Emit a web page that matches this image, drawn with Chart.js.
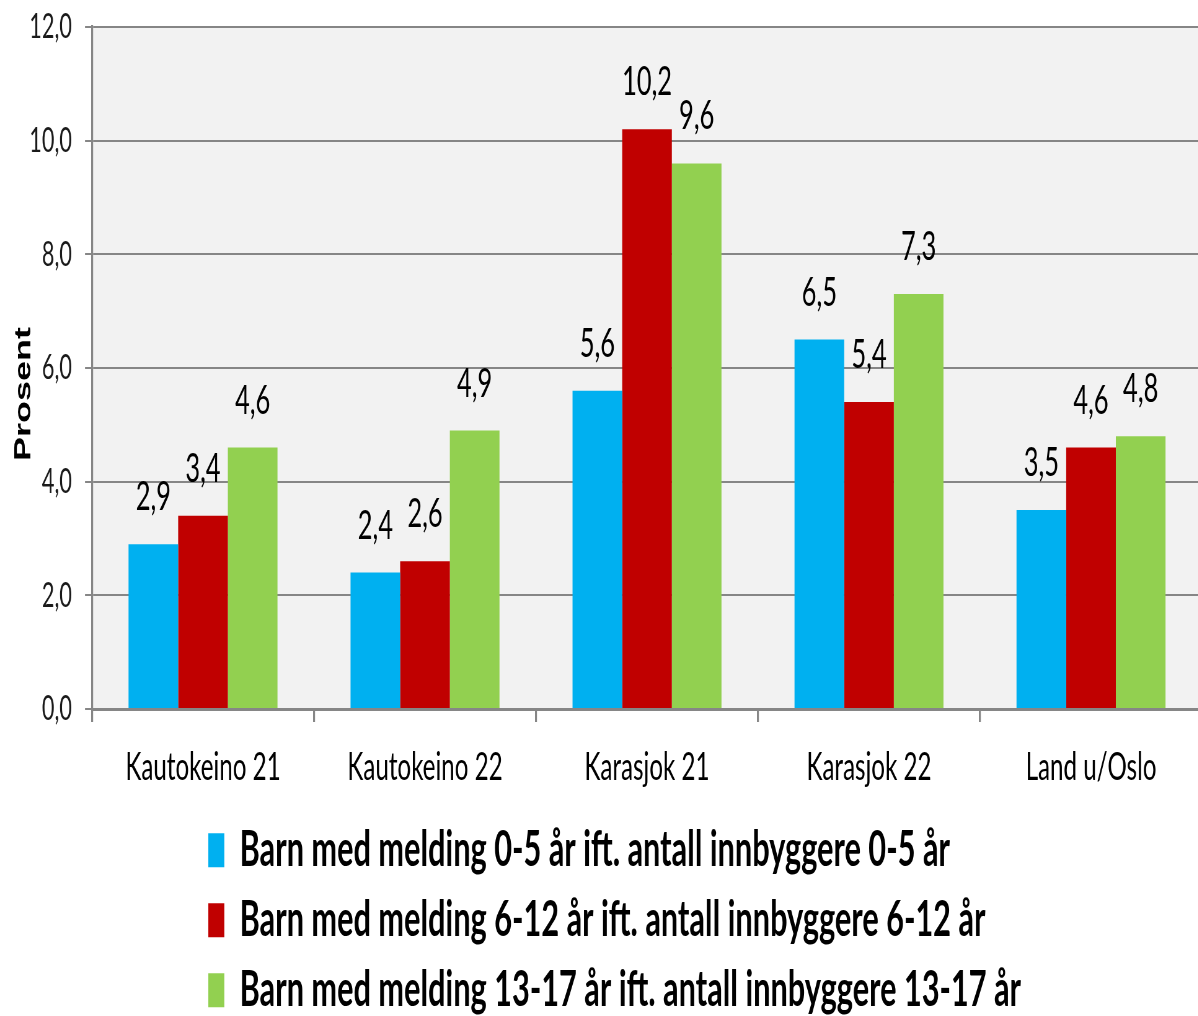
<!DOCTYPE html>
<html>
<head>
<meta charset="utf-8">
<script src="https://cdn.jsdelivr.net/npm/chart.js@4.4.1/dist/chart.umd.min.js"></script>
<style>
  html, body { margin: 0; padding: 0; overflow: hidden; background: #ffffff; }
  #myChart { display: block; }
</style>
</head>
<body>
<canvas id="myChart" width="1939" height="1016" style="width:1202px;height:1016px"></canvas>
<script>
// Data
const categories = ["Kautokeino 21", "Kautokeino 22", "Karasjok 21", "Karasjok 22", "Land u/Oslo"];
const seriesNames = [
  "Barn med melding 0-5 år ift. antall innbyggere 0-5 år",
  "Barn med melding 6-12 år ift. antall innbyggere 6-12 år",
  "Barn med melding 13-17 år ift. antall innbyggere 13-17 år",
];
const age0to5 = [2.9, 2.4, 5.6, 6.5, 3.5];
const age6to12 = [3.4, 2.6, 10.2, 5.4, 4.6];
const age13to17 = [4.6, 4.9, 9.6, 7.3, 4.8];
const yTickLabels = ["0,0", "2,0", "4,0", "6,0", "8,0", "10,0", "12,0"];
const yTitle = "Prosent";

// The picture is squeezed sideways, so the canvas is drawn wide and shown narrow
var SX = 1202 / 1939;
function px(screenX) {
  return screenX / SX;
}

function fmt(v) {
  return v.toFixed(1).replace(".", ",");
}

// Grey plot background
const plotBackground = {
  id: "plotBackground",
  beforeDraw(chart) {
    const a = chart.chartArea;
    const ctx = chart.ctx;
    ctx.save();
    ctx.fillStyle = "#f2f2f2";
    ctx.fillRect(a.left, a.top, a.right - a.left, a.bottom - a.top);
    ctx.restore();
  },
};

// Value labels above each bar
const valueLabels = {
  id: "valueLabels",
  afterDatasetsDraw(chart) {
    const ctx = chart.ctx;
    ctx.save();
    ctx.font = "normal 41px Lato";
    ctx.fillStyle = "#000000";
    ctx.textAlign = "center";
    ctx.textBaseline = "alphabetic";
    chart.data.datasets.forEach((ds, i) => {
      chart.getDatasetMeta(i).data.forEach((bar, j) => {
        ctx.fillText(fmt(ds.data[j]), bar.x, bar.y - 34);
      });
    });
    ctx.restore();
  },
};

// Axis title sits a bit below the axis middle, so it is drawn here
const axisTitle = {
  id: "axisTitle",
  afterDraw(chart) {
    const ctx = chart.ctx;
    ctx.save();
    ctx.translate(px(24), 394);
    ctx.rotate(-Math.PI / 2);
    ctx.font = "bold 36px 'Liberation Sans'";
    ctx.fillStyle = "#000000";
    ctx.textAlign = "center";
    ctx.textBaseline = "middle";
    ctx.fillText(yTitle, 0, 0);
    ctx.restore();
  },
};

// Put the legend as a left-aligned column under the x labels
const legendPlace = {
  id: "legendPlace",
  afterLayout(chart) {
    const lg = chart.legend;
    lg.left = px(208) - 20;
    lg.top = 805;
    lg.right = chart.width;
    lg.bottom = 1120;
    lg.width = lg.right - lg.left;
    lg.height = lg.bottom - lg.top;
  },
};

var ctx = document.getElementById("myChart").getContext("2d");
var myChart = new Chart(ctx, {
  type: "bar",
  data: {
    labels: categories,
    datasets: [
      { label: seriesNames[0], data: age0to5, backgroundColor: "#00b0f0", borderWidth: 0 },
      { label: seriesNames[1], data: age6to12, backgroundColor: "#c00000", borderWidth: 0 },
      { label: seriesNames[2], data: age13to17, backgroundColor: "#92d050", borderWidth: 0 },
    ],
  },
  options: {
    responsive: false,
    devicePixelRatio: 1,
    animation: false,
    categoryPercentage: 0.671,
    barPercentage: 1,
    layout: { padding: { top: 27, left: 0, right: 0, bottom: 0 } },
    scales: {
      x: {
        offset: true,
        grid: {
          offset: true,
          drawOnChartArea: false,
          drawTicks: true,
          tickLength: 13,
          color: "#868686",
          lineWidth: 3.2,
        },
        border: { display: true, color: "#868686", width: 3 },
        ticks: {
          color: "#000000",
          padding: 22,
          font: { family: "Lato", size: 39 },
        },
        afterFit: function (scale) {
          scale.height = 1016 - 709;
          scale.paddingLeft = 0;
          scale.paddingRight = 0;
        },
      },
      y: {
        min: 0,
        max: 12,
        grid: {
          color: "#868686",
          lineWidth: 2,
          tickLength: px(7),
        },
        border: { display: true, color: "#868686", width: 3.2 },
        ticks: {
          stepSize: 2,
          color: "#1a1a1a",
          padding: 21,
          font: { family: "Lato", size: 35 },
          callback: function (value, index) {
            return yTickLabels[index];
          },
        },
        afterFit: function (scale) {
          scale.width = px(92);
          scale.paddingTop = 0;
          scale.paddingBottom = 0;
        },
      },
    },
    plugins: {
      legend: {
        display: true,
        position: "chartArea",
        align: "start",
        labels: {
          boxWidth: px(16),
          boxHeight: 34,
          padding: 20.5,
          color: "#000000",
          font: { family: "Lato", size: 49.5, weight: "bold" },
        },
      },
      tooltip: { enabled: false },
    },
  },
  plugins: [plotBackground, valueLabels, axisTitle, legendPlace],
});
</script>
</body>
</html>
